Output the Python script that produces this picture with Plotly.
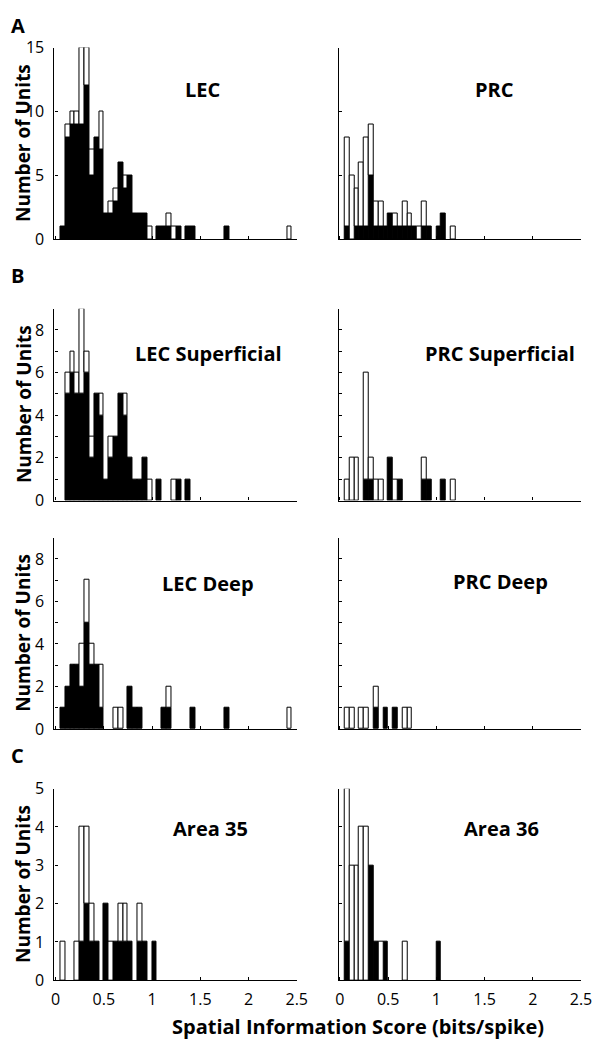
import plotly.graph_objects as go

# ---------------- data (bin left edges in bits/spike, bins are 0.05 wide) ----------------
# filled = black part of each bar, open = white part stacked on top
LEC_bins = [0.05, 0.10, 0.15, 0.20, 0.25, 0.30, 0.35, 0.40, 0.45, 0.50, 0.55, 0.60, 0.65, 0.70,
            0.75, 0.80, 0.85, 0.90, 0.95, 1.05, 1.10, 1.15, 1.20, 1.25, 1.35, 1.40, 1.75, 2.40]
LEC_filled = [1, 8, 9, 9, 9, 12, 5, 8, 7, 2, 2, 3, 6, 4, 5, 2, 2, 2, 0, 1, 1, 1, 0, 1, 1, 1, 1, 0]
LEC_open = [0, 1, 1, 1, 6, 3, 2, 0, 3, 0, 1, 1, 0, 1, 0, 0, 0, 0, 1, 0, 0, 1, 1, 0, 0, 0, 0, 1]

PRC_bins = [0.05, 0.10, 0.15, 0.20, 0.25, 0.30, 0.35, 0.40, 0.45, 0.50, 0.55, 0.60, 0.65, 0.70,
            0.75, 0.80, 0.85, 0.90, 1.00, 1.05, 1.15]
PRC_filled = [1, 0, 1, 1, 1, 5, 1, 1, 1, 2, 1, 1, 1, 1, 1, 0, 1, 1, 1, 2, 0]
PRC_open = [7, 5, 3, 5, 7, 4, 2, 2, 0, 0, 1, 0, 2, 1, 0, 1, 2, 0, 0, 0, 1]

LECsup_bins = [0.10, 0.15, 0.20, 0.25, 0.30, 0.35, 0.40, 0.45, 0.50, 0.55, 0.60, 0.65, 0.70,
               0.75, 0.80, 0.85, 0.90, 0.95, 1.05, 1.20, 1.25, 1.35]
LECsup_filled = [5, 6, 5, 5, 6, 2, 5, 4, 1, 2, 3, 5, 4, 2, 1, 1, 2, 0, 1, 0, 1, 1]
LECsup_open = [1, 1, 1, 4, 1, 1, 0, 1, 0, 1, 0, 0, 1, 0, 0, 0, 0, 1, 0, 1, 0, 0]

PRCsup_bins = [0.05, 0.10, 0.15, 0.25, 0.30, 0.35, 0.40, 0.50, 0.55, 0.60, 0.85, 0.90, 1.05, 1.15]
PRCsup_filled = [0, 0, 0, 1, 1, 0, 0, 2, 0, 1, 1, 1, 1, 0]
PRCsup_open = [1, 2, 2, 5, 1, 1, 1, 0, 1, 0, 1, 0, 0, 1]

LECdeep_bins = [0.05, 0.10, 0.15, 0.20, 0.25, 0.30, 0.35, 0.40, 0.45, 0.60, 0.65, 0.75, 0.80,
                0.85, 1.10, 1.15, 1.40, 1.75, 2.40]
LECdeep_filled = [1, 2, 3, 3, 2, 5, 3, 3, 1, 0, 0, 2, 1, 1, 1, 1, 1, 1, 0]
LECdeep_open = [0, 0, 0, 0, 2, 2, 1, 0, 2, 1, 1, 0, 0, 0, 0, 1, 0, 0, 1]

PRCdeep_bins = [0.05, 0.10, 0.20, 0.25, 0.35, 0.45, 0.55, 0.65, 0.70]
PRCdeep_filled = [0, 0, 0, 0, 1, 1, 1, 0, 0]
PRCdeep_open = [1, 1, 1, 1, 1, 0, 0, 1, 1]

A35_bins = [0.05, 0.20, 0.25, 0.30, 0.35, 0.40, 0.50, 0.55, 0.60, 0.65, 0.70, 0.75, 0.85, 0.90, 1.00]
A35_filled = [0, 0, 1, 2, 1, 1, 2, 0, 1, 1, 1, 1, 1, 1, 1]
A35_open = [1, 1, 3, 2, 1, 0, 0, 1, 0, 1, 1, 0, 1, 0, 0]

A36_bins = [0.05, 0.10, 0.15, 0.20, 0.25, 0.30, 0.35, 0.40, 0.45, 0.65, 1.00]
A36_filled = [1, 0, 0, 0, 0, 3, 1, 0, 1, 0, 1]
A36_open = [4, 3, 3, 4, 4, 0, 0, 1, 0, 1, 0]

X_TICKS = [0, 0.5, 1, 1.5, 2, 2.5]
X_TICKTEXT = ["0", "0.5", "1", "1.5", "2", "2.5"]
BIN_W = 0.05

# ---------------- layout helpers ----------------
W, H = 605, 1050
FONT = "Open Sans"

def px(x):
    return x / W

def py(y):
    return 1 - y / H

cols = [(52.7, 300.7), (343.7, 591.7)]
rows = [
    dict(top=37.3, bot=233.3, ymax=15, ticks=[0, 5, 10, 15], text=["0", "5", "10", "15"]),
    dict(top=304.0, bot=500.0, ymax=9, ticks=list(range(10)),
         text=["0", "", "2", "", "4", "", "6", "", "8", ""]),
    dict(top=538.0, bot=733.3, ymax=9, ticks=list(range(10)),
         text=["0", "", "2", "", "4", "", "6", "", "8", ""]),
    dict(top=794.3, bot=990.0, ymax=5, ticks=list(range(6)), text=[str(i) for i in range(6)]),
]

panels = [
    ("LEC", LEC_bins, LEC_filled, LEC_open, 0, 0, (204.7, 80.3)),
    ("PRC", PRC_bins, PRC_filled, PRC_open, 0, 1, (503.3, 80.3)),
    ("LEC Superficial", LECsup_bins, LECsup_filled, LECsup_open, 1, 0, (210.0, 349.5)),
    ("PRC Superficial", PRCsup_bins, PRCsup_filled, PRCsup_open, 1, 1, (508.8, 350.0)),
    ("LEC Deep", LECdeep_bins, LECdeep_filled, LECdeep_open, 2, 0, (210.3, 585.0)),
    ("PRC Deep", PRCdeep_bins, PRCdeep_filled, PRCdeep_open, 2, 1, (509.3, 583.0)),
    ("Area 35", A35_bins, A35_filled, A35_open, 3, 0, (212.0, 834.5)),
    ("Area 36", A36_bins, A36_filled, A36_open, 3, 1, (510.8, 834.5)),
]

fig = go.Figure()
annotations = []
layout_axes = {}

for i, (name, bins, filled, opened, r, c, tpos) in enumerate(panels):
    n = i + 1
    xa = "x" if n == 1 else f"x{n}"
    ya = "y" if n == 1 else f"y{n}"
    row = rows[r]
    # filled (black) part
    fx = [b for b, f in zip(bins, filled) if f > 0]
    fy = [f for f in filled if f > 0]
    fig.add_trace(go.Bar(
        x=fx, y=fy, width=BIN_W, offset=0, xaxis=xa, yaxis=ya,
        marker=dict(color="black", line=dict(color="black", width=1)),
        showlegend=False, hoverinfo="skip"))
    # open (white) part stacked on top
    ox = [b for b, o in zip(bins, opened) if o > 0]
    oy = [o for o in opened if o > 0]
    ob = [f for f, o in zip(filled, opened) if o > 0]
    fig.add_trace(go.Bar(
        x=ox, y=oy, base=ob, width=BIN_W, offset=0, xaxis=xa, yaxis=ya,
        marker=dict(color="white", line=dict(color="black", width=1)),
        showlegend=False, hoverinfo="skip"))

    x0, x1 = cols[c]
    xkey = "xaxis" if n == 1 else f"xaxis{n}"
    ykey = "yaxis" if n == 1 else f"yaxis{n}"
    layout_axes[xkey] = dict(
        domain=[px(x0), px(x1)], range=[-0.012, 2.5], anchor=ya,
        showline=True, linecolor="black", linewidth=1.2, mirror=False,
        ticks="inside", ticklen=3, tickwidth=1, tickcolor="black",
        tickmode="array", tickvals=X_TICKS, ticktext=X_TICKTEXT,
        showticklabels=(r == 3), ticklabelstandoff=4,
        tickfont=dict(family=FONT, size=16, color="black"),
        showgrid=False, zeroline=False, fixedrange=True)
    layout_axes[ykey] = dict(
        domain=[py(row["bot"]), py(row["top"])], range=[0, row["ymax"]], anchor=xa,
        showline=True, linecolor="black", linewidth=1.2,
        ticks="inside", ticklen=3, tickwidth=1, tickcolor="black",
        tickmode="array", tickvals=row["ticks"], ticktext=row["text"],
        showticklabels=(c == 0), ticklabelstandoff=6,
        tickfont=dict(family=FONT, size=16, color="black"),
        showgrid=False, zeroline=False, fixedrange=True)

    annotations.append(dict(
        text=f"<b>{name}</b>", x=px(tpos[0]), y=py(tpos[1]), xref="paper", yref="paper",
        xanchor="center", yanchor="middle", showarrow=False,
        font=dict(family=FONT, size=20, color="black")))

# y-axis titles
for row in rows:
    annotations.append(dict(
        text="<b>Number of Units</b>", x=px(21), y=py((row["top"] + row["bot"]) / 2),
        xref="paper", yref="paper", xanchor="center", yanchor="middle",
        textangle=-90, showarrow=False, font=dict(family=FONT, size=19, color="black")))

# x-axis title
annotations.append(dict(
    text="<b>Spatial Information Score (bits/spike)</b>", x=px(363), y=py(1037),
    xref="paper", yref="paper", xanchor="center", yanchor="middle", showarrow=False,
    font=dict(family=FONT, size=20, color="black")))

# panel letters
for letter, ypos in [("A", 15), ("B", 270), ("C", 760)]:
    annotations.append(dict(
        text=f"<b>{letter}</b>", x=px(15), y=py(ypos), xref="paper", yref="paper",
        xanchor="center", yanchor="middle", showarrow=False,
        font=dict(family=FONT, size=20, color="black")))

fig.update_layout(
    width=W, height=H, margin=dict(l=0, r=0, t=0, b=0),
    paper_bgcolor="white", plot_bgcolor="white",
    barmode="overlay", bargap=0, showlegend=False,
    annotations=annotations, **layout_axes)

fig.write_html(
    "out.html", config={"displayModeBar": False},
    post_script="document.body.style.margin='0';document.body.style.padding='0';"
                "document.body.style.overflow='hidden';")
